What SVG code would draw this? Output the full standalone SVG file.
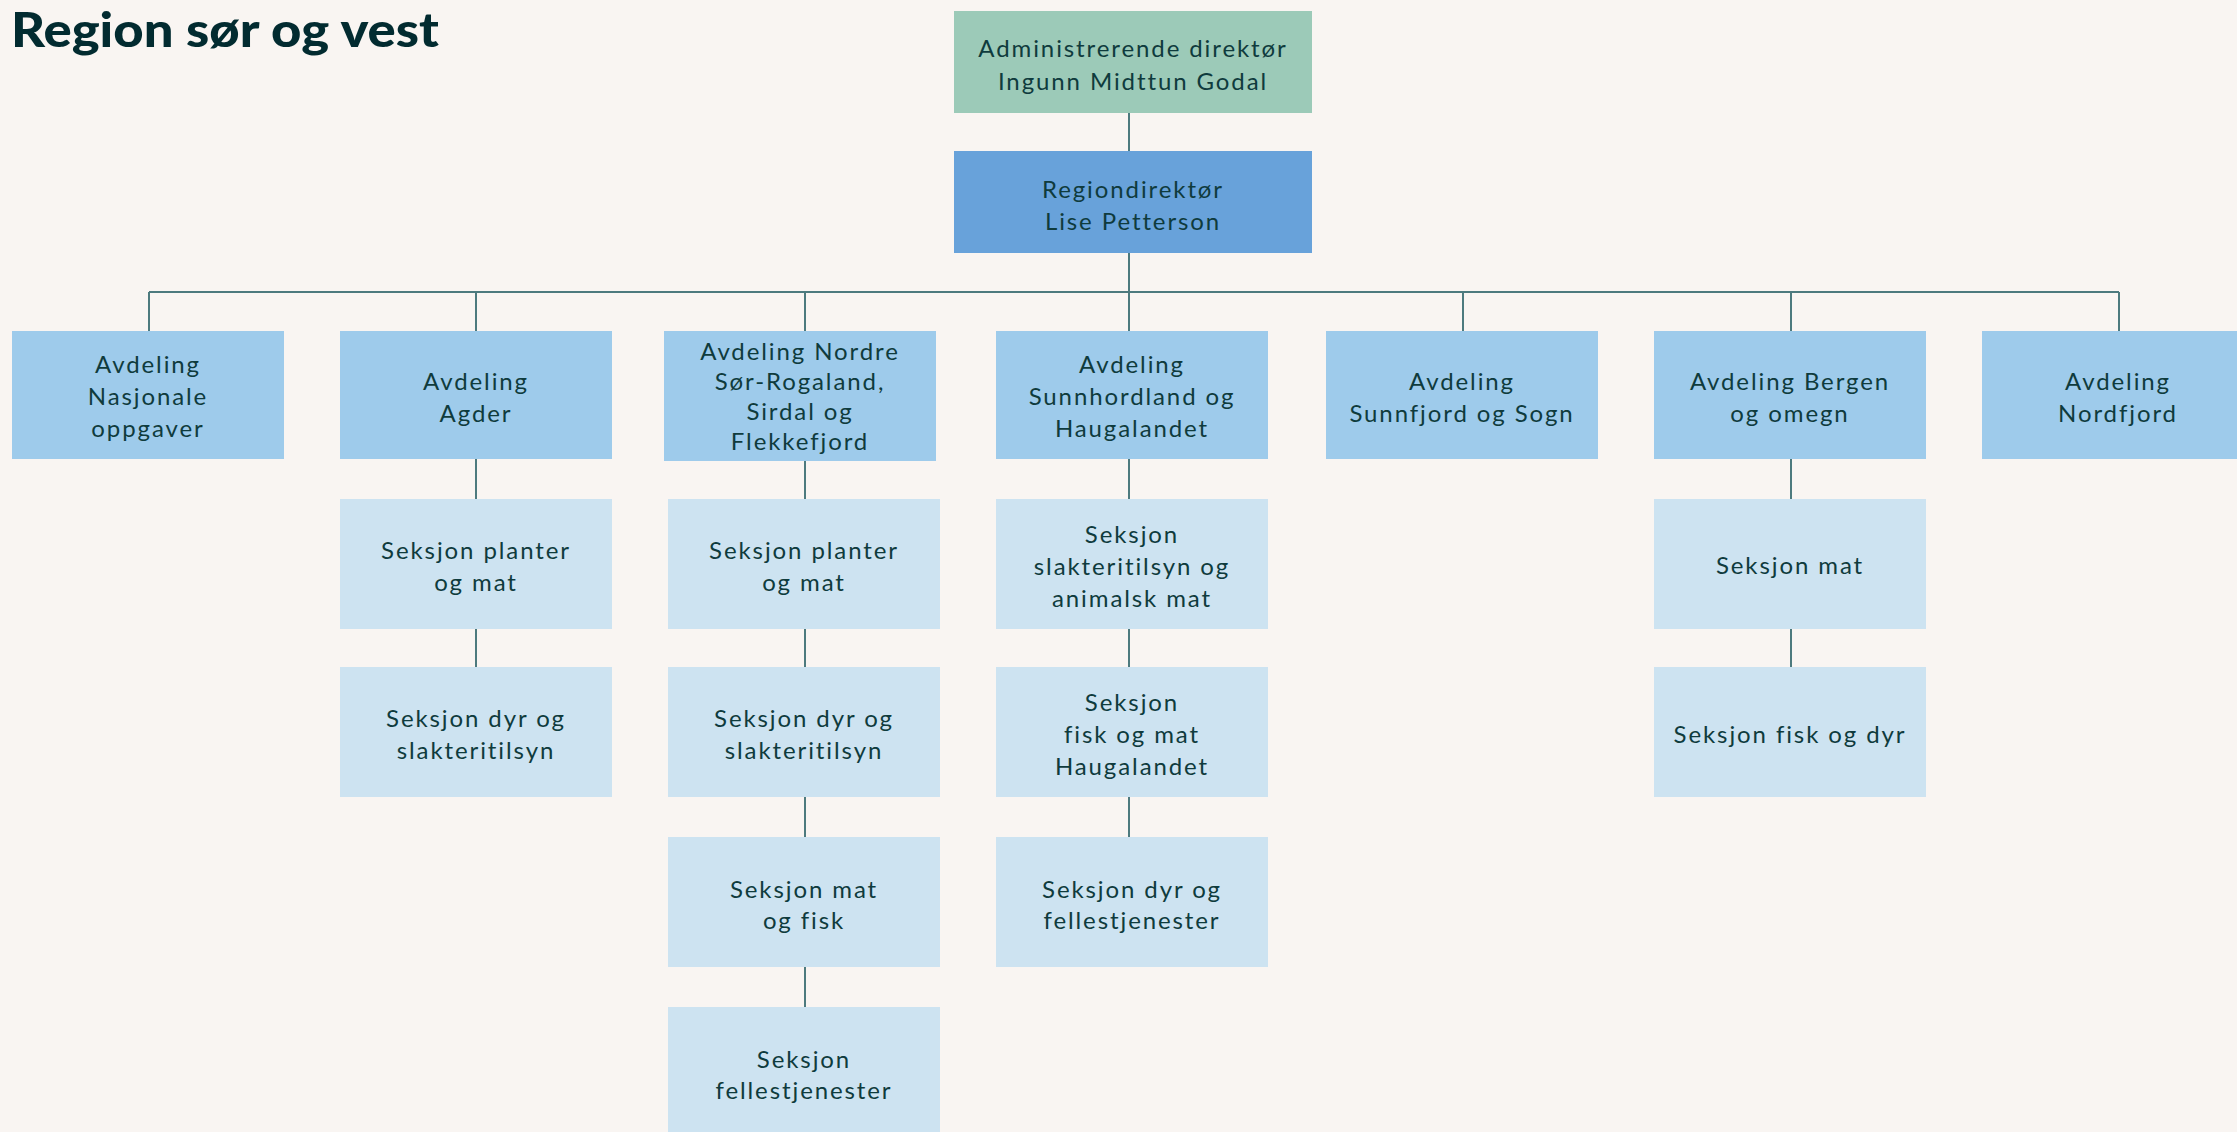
<svg xmlns="http://www.w3.org/2000/svg" width="2237" height="1132" viewBox="0 0 2237 1132">
<style>
.bg{fill:#f9f5f2}
.top{fill:#9ccab8}
.reg{fill:#68a2da}
.dep{fill:#9ecbeb}
.sec{fill:#cde3f1}
.ln{stroke:#4d7a7e;stroke-width:2;fill:none}
text{font-family:Lato,"Open Sans","Liberation Sans",sans-serif;font-size:24px;fill:#0f3b3d;text-anchor:middle;letter-spacing:1.9px}
.title{font-size:47px;font-weight:900;fill:#022b30;text-anchor:start;letter-spacing:0}
</style>
<rect class="bg" x="0" y="0" width="2237" height="1132"/>
<text class="title" x="11" y="47" textLength="428" lengthAdjust="spacingAndGlyphs">Region sør og vest</text>

<g id="connectors">
<path class="ln" d="M1129 113V151M1129 253V331M149 292H2119M149 292V331M476 292V331M805 292V331M1463 292V331M1791 292V331M2119 292V331"/>
<path class="ln" d="M476 459V499M476 629V667"/>
<path class="ln" d="M805 461V499M805 629V667M805 797V837M805 967V1007"/>
<path class="ln" d="M1129 459V499M1129 629V667M1129 797V837"/>
<path class="ln" d="M1791 459V499M1791 629V667"/>
</g>

<g id="adm"><rect class="top" x="954" y="11" width="358" height="102"/>
<text x="1133" y="57">Administrerende direktør</text><text x="1133" y="90">Ingunn Midttun Godal</text></g>
<g id="regdir"><rect class="reg" x="954" y="151" width="358" height="102"/>
<text x="1133" y="198">Regiondirektør</text><text x="1133" y="230">Lise Petterson</text></g>

<g id="d-nasjonale"><rect class="dep" x="12" y="331" width="272" height="128"/>
<text x="148" y="373">Avdeling</text><text x="148" y="405">Nasjonale</text><text x="148" y="437">oppgaver</text></g>
<g id="d-agder"><rect class="dep" x="340" y="331" width="272" height="128"/>
<text x="476" y="390">Avdeling</text><text x="476" y="422">Agder</text></g>
<g id="d-nordre"><rect class="dep" x="664" y="331" width="272" height="130"/>
<text x="800" y="360">Avdeling Nordre</text><text x="800" y="390">Sør-Rogaland,</text><text x="800" y="420">Sirdal og</text><text x="800" y="450">Flekkefjord</text></g>
<g id="d-sunnhordland"><rect class="dep" x="996" y="331" width="272" height="128"/>
<text x="1132" y="373">Avdeling</text><text x="1132" y="405">Sunnhordland og</text><text x="1132" y="437">Haugalandet</text></g>
<g id="d-sunnfjord"><rect class="dep" x="1326" y="331" width="272" height="128"/>
<text x="1462" y="390">Avdeling</text><text x="1462" y="422">Sunnfjord og Sogn</text></g>
<g id="d-bergen"><rect class="dep" x="1654" y="331" width="272" height="128"/>
<text x="1790" y="390">Avdeling Bergen</text><text x="1790" y="422">og omegn</text></g>
<g id="d-nordfjord"><rect class="dep" x="1982" y="331" width="272" height="128"/>
<text x="2118" y="390">Avdeling</text><text x="2118" y="422">Nordfjord</text></g>

<g id="s-agder-1"><rect class="sec" x="340" y="499" width="272" height="130"/>
<text x="476" y="559">Seksjon planter</text><text x="476" y="591">og mat</text></g>
<g id="s-agder-2"><rect class="sec" x="340" y="667" width="272" height="130"/>
<text x="476" y="727">Seksjon dyr og</text><text x="476" y="759">slakteritilsyn</text></g>

<g id="s-nordre-1"><rect class="sec" x="668" y="499" width="272" height="130"/>
<text x="804" y="559">Seksjon planter</text><text x="804" y="591">og mat</text></g>
<g id="s-nordre-2"><rect class="sec" x="668" y="667" width="272" height="130"/>
<text x="804" y="727">Seksjon dyr og</text><text x="804" y="759">slakteritilsyn</text></g>
<g id="s-nordre-3"><rect class="sec" x="668" y="837" width="272" height="130"/>
<text x="804" y="898">Seksjon mat</text><text x="804" y="929">og fisk</text></g>
<g id="s-nordre-4"><rect class="sec" x="668" y="1007" width="272" height="130"/>
<text x="804" y="1068">Seksjon</text><text x="804" y="1099">fellestjenester</text></g>

<g id="s-sunn-1"><rect class="sec" x="996" y="499" width="272" height="130"/>
<text x="1132" y="543">Seksjon</text><text x="1132" y="575">slakteritilsyn og</text><text x="1132" y="607">animalsk mat</text></g>
<g id="s-sunn-2"><rect class="sec" x="996" y="667" width="272" height="130"/>
<text x="1132" y="711">Seksjon</text><text x="1132" y="743">fisk og mat</text><text x="1132" y="775">Haugalandet</text></g>
<g id="s-sunn-3"><rect class="sec" x="996" y="837" width="272" height="130"/>
<text x="1132" y="898">Seksjon dyr og</text><text x="1132" y="929">fellestjenester</text></g>

<g id="s-bergen-1"><rect class="sec" x="1654" y="499" width="272" height="130"/>
<text x="1790" y="574">Seksjon mat</text></g>
<g id="s-bergen-2"><rect class="sec" x="1654" y="667" width="272" height="130"/>
<text x="1790" y="743">Seksjon fisk og dyr</text></g>
</svg>
